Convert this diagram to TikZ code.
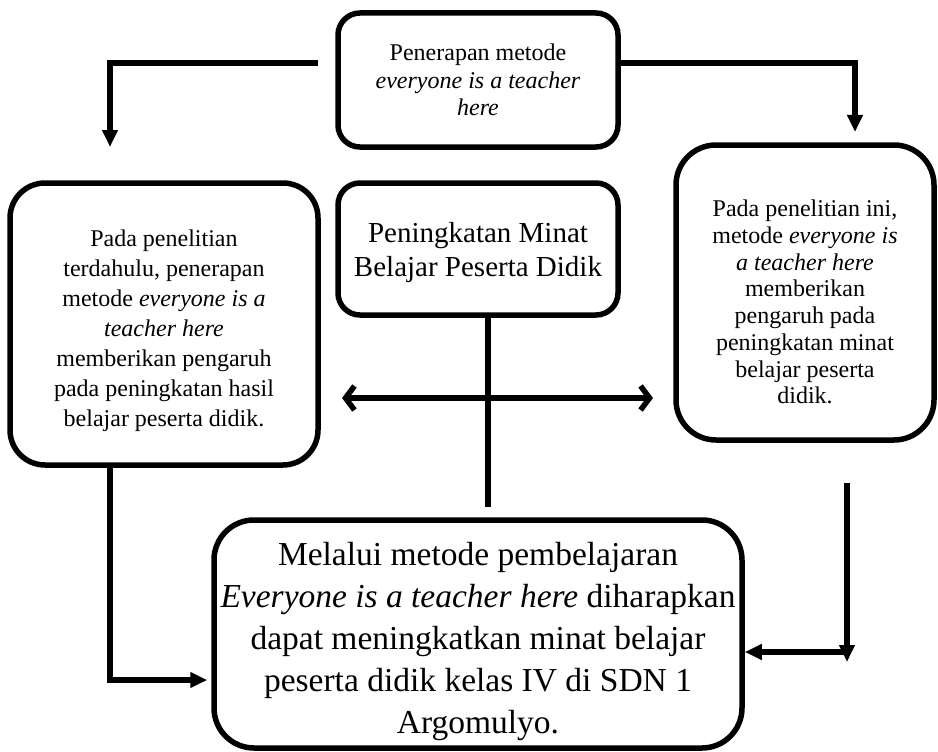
\documentclass[tikz,border=0pt]{standalone}
\usepackage{fontspec}
\setmainfont{Liberation Serif}
\usetikzlibrary{arrows.meta}
\newcommand{\topstrut}[1]{\rule{0pt}{#1}}
\begin{document}
\begin{tikzpicture}[x=1pt,y=-1pt,
  box/.style={draw, line width=5.5pt, rounded corners=#1, align=center, inner sep=0pt},
  box/.default=25pt,
  conn/.style={line width=5.5pt},
  tri/.style={-{Triangle[length=17pt,width=15pt]}},
  barb/.style={{Straight Barb[length=9pt,width=24pt]}-{Straight Barb[length=9pt,width=24pt]}}]
\useasboundingbox (0,0) rectangle (938,752);

\node[box=22pt, minimum width=280pt, minimum height=134pt, font=\fontsize{24}{27.5}\selectfont] (top) at (478,80)
  {Penerapan metode\\\textit{everyone is a teacher}\\\textit{here}};

\node[box=22pt, minimum width=280pt, minimum height=132pt, font=\fontsize{29}{34}\selectfont] (mid) at (478,249)
  {\topstrut{28pt}Peningkatan Minat\\Belajar Peserta Didik};

\node[box=35pt, minimum width=308pt, minimum height=282pt, font=\fontsize{24}{30}\selectfont] (left) at (164,324)
  {\topstrut{30.5pt}Pada penelitian\\terdahulu, penerapan\\metode \textit{everyone is a}\\\textit{teacher here}\\memberikan pengaruh\\pada peningkatan hasil\\belajar peserta didik.};

\node[box=40pt, minimum width=258pt, minimum height=295pt, font=\fontsize{24}{26.7}\selectfont] (right) at (805,292.5)
  {\topstrut{36pt}Pada penelitian ini,\\metode \textit{everyone is}\\\textit{a teacher here}\\memberikan\\pengaruh pada\\peningkatan minat\\belajar peserta\\didik.};

\node[box=40pt, minimum width=528pt, minimum height=228pt, font=\fontsize{33.5}{42}\selectfont] (bottom) at (478,634)
  {\topstrut{39pt}Melalui metode pembelajaran\\\textit{Everyone is a teacher here} diharapkan\\dapat meningkatkan minat belajar\\peserta didik kelas IV di SDN 1\\Argomulyo.};

% top connectors
\coordinate (tl0) at (318,63);
\coordinate (tl1) at (110,147);
\draw[conn,tri] (tl0) -| (tl1);
\coordinate (tr1) at (855,132);
\draw[conn,tri] ([yshift=17pt]top.east) -| (tr1);

% double arrow and vertical line
\coordinate (h0) at (342,398);
\coordinate (h1) at (653,398);
\draw[conn,barb] (h0) -- (h1);
\coordinate (v1) at (488,507);
\draw[conn] (mid.south -| v1) -- (v1);

% bottom-left connector
\coordinate (lb) at (110,680);
\draw[conn,tri] (left.south -| lb) -- (lb) -- ([xshift=-4pt]bottom.west |- lb);

% bottom-right connectors
\coordinate (rv0) at (847,483);
\coordinate (rv1) at (847,662);
\draw[conn,tri] (rv0) -- (rv1);
\coordinate (rh) at (847,652);
\draw[conn,tri] (rh) -- (bottom.east |- rh);
\end{tikzpicture}
\end{document}
